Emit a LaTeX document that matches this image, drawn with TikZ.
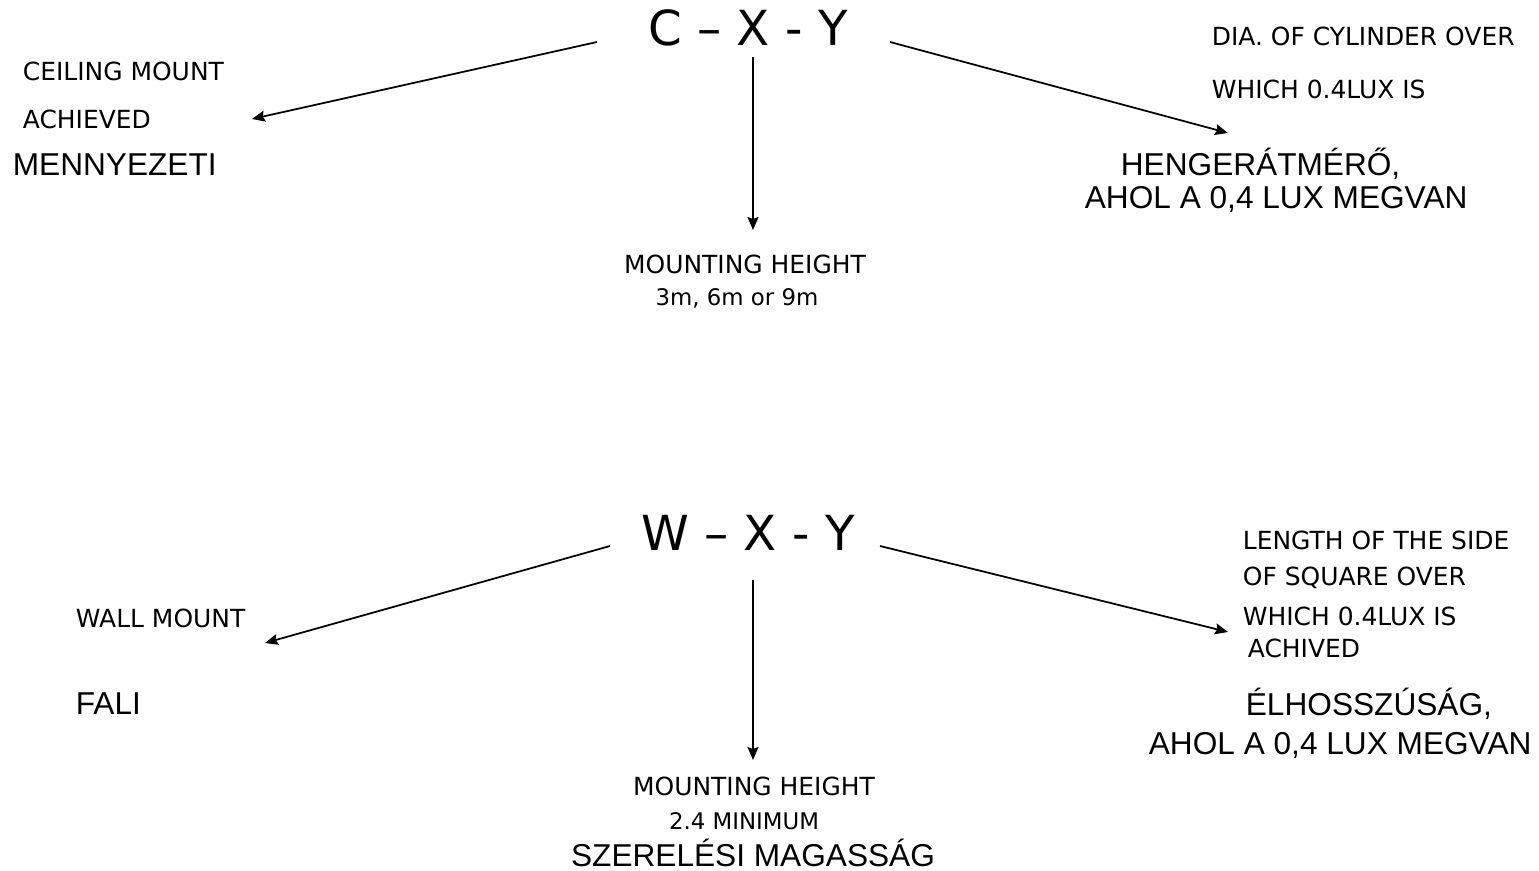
\documentclass[tikz,border=0pt]{standalone}
\usepackage{fontspec}
\setmainfont{DejaVu Sans}
\newfontfamily\arialfont{Liberation Sans}
\usetikzlibrary{arrows.meta,positioning}

\begin{document}
\begin{tikzpicture}[->,>={Stealth[length=2.6mm,width=2.2mm,inset=0.4mm]},x=0.02cm,y=-0.02cm,
line width=1pt]

\tikzstyle{code}=[inner sep=0pt, font=\fontsize{27.5}{32}\selectfont]
\tikzstyle{eng}=[inner sep=0pt, anchor=west, font=\fontsize{14.2}{17}\selectfont]
\tikzstyle{engs}=[inner sep=0pt, font=\fontsize{13}{16}\selectfont]
\tikzstyle{hun}=[inner sep=0pt, anchor=west, font=\arialfont\fontsize{18}{21}\selectfont]

\useasboundingbox (0,0) rectangle (1539,871);

%ceiling mount
\node[code] (cxy) at (748,28) {C \textendash{} X - Y};
\node[eng] (ceil) at (22,71) {CEILING MOUNT};
\node[eng] (ceilb) at (22,119) {ACHIEVED};
\node[hun] (ceilhu) at (12,165) {MENNYEZETI};
\node[eng, anchor=center] (cheight) at (745,264) {MOUNTING HEIGHT};
\node[engs] (cheightb) at (737,298) {3m, 6m or 9m};
\node[eng] (cyl) at (1211,36) {DIA. OF CYLINDER OVER};
\node[eng] (cylb) at (1211,89) {WHICH 0.4LUX IS};
\node[hun] (cylhu) at (1120,164) {HENGERÁTMÉRŐ,};
\node[hun] (cylhub) at (1084,199) {AHOL A 0,4 LUX MEGVAN};

\coordinate (c-l) at (597,42);
\coordinate (c-lt) at (252,119);
\coordinate (c-m) at (753,57);
\coordinate (c-mt) at (753,230);
\coordinate (c-r) at (890,42);
\coordinate (c-rt) at (1228,133);

\draw (c-l) -- (c-lt);
\draw (c-m) -- (c-mt);
\draw (c-r) -- (c-rt);

%wall mount
\node[code] (wxy) at (748,533) {W \textendash{} X - Y};
\node[eng] (wall) at (75,618) {WALL MOUNT};
\node[hun] (wallhu) at (75,704) {FALI};
\node[eng, anchor=center] (wheight) at (754,786) {MOUNTING HEIGHT};
\node[engs] (wheightb) at (744,821) {2.4 MINIMUM};
\node[hun, anchor=center] (wheighthu) at (753,853) {SZERELÉSI MAGASSÁG};
\node[eng] (sq) at (1242,540) {LENGTH OF THE SIDE};
\node[eng] (sqb) at (1242,578) {OF SQUARE OVER};
\node[eng] (sqc) at (1242,616) {WHICH 0.4LUX IS};
\node[eng] (sqd) at (1247,648) {ACHIVED};
\node[hun] (sqhu) at (1245,704) {ÉLHOSSZÚSÁG,};
\node[hun] (sqhub) at (1148,745) {AHOL A 0,4 LUX MEGVAN};

\coordinate (w-l) at (610,546);
\coordinate (w-lt) at (265,643);
\coordinate (w-m) at (753,580);
\coordinate (w-mt) at (753,760);
\coordinate (w-r) at (880,546);
\coordinate (w-rt) at (1228,632);

\draw (w-l) -- (w-lt);
\draw (w-m) -- (w-mt);
\draw (w-r) -- (w-rt);

\end{tikzpicture}
\end{document}
